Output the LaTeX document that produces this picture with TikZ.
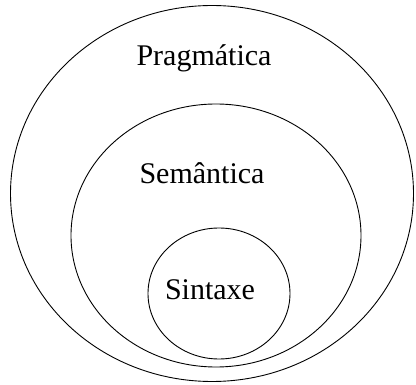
\documentclass[tikz,border=0pt]{standalone}
\usepackage{fontspec}
\setmainfont{Liberation Serif}
\usetikzlibrary{shapes.geometric}
\tikzset{level ring/.style={draw=black, ellipse, line width=0.9pt, inner sep=0pt}}
\tikzset{level label/.style={font=\fontsize{30}{34}\selectfont, inner sep=0pt}}

\begin{document}
\begin{tikzpicture}[x=1pt,y=-1pt]
		\useasboundingbox (0,0) rectangle (416,385);

		\node[level ring, minimum width=403pt, minimum height=376pt] (prag) at (212,193.5) {};
		\node[level ring, minimum width=290pt, minimum height=263pt] (sem) at (216,235.5) {};
		\node[level ring, minimum width=142pt, minimum height=131pt] (sint) at (219,293.5) {};

		\node[level label] (pragtext) at (204,58) {Pragmática};
		\node[level label] (semtext) at (202,173) {Semântica};
		\node[level label] (sinttext) at (210,290) {Sintaxe};
	\end{tikzpicture}
\end{document}
